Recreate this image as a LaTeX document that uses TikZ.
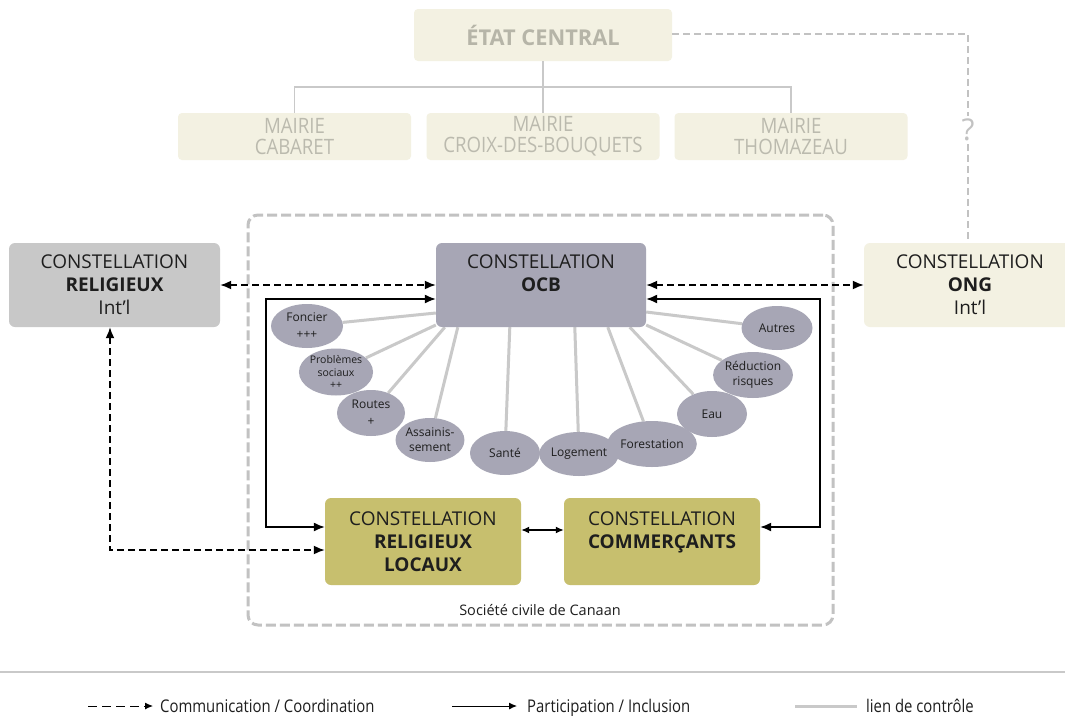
\documentclass[tikz,border=0pt]{standalone}
\usepackage{fontspec}
\setmainfont{Open Sans}
\newfontfamily\condfont[FakeStretch=0.88]{Open Sans}
\newfontfamily\legfont[FakeStretch=0.85]{Open Sans}
\usetikzlibrary{arrows.meta,calc,shapes.geometric,backgrounds}
\definecolor{beige}{HTML}{F3F1E2}
\definecolor{beigetxt}{HTML}{B6B5A8}
\definecolor{mairietxt}{HTML}{BBBAAE}
\definecolor{relgray}{HTML}{C8C8C8}
\definecolor{ocbc}{HTML}{A7A6B5}
\definecolor{olive}{HTML}{C7BF6E}
\definecolor{ctrlgray}{HTML}{C9C9C9}
\definecolor{dashgray}{HTML}{C2C2C2}
\definecolor{txtdark}{HTML}{1E1E1E}
\begin{document}
\begin{tikzpicture}[x=1pt,y=-1pt,
  box/.style={rounded corners=6pt, inner sep=0pt, align=center, text=txtdark,
    font=\fontsize{19}{23}\selectfont},
  topbox/.style={rounded corners=4pt, inner sep=0pt, align=center, fill=beige},
  oval/.style={ellipse, fill=ocbc, inner sep=0pt, align=center, text=txtdark,
    minimum width=70pt, minimum height=45pt, font=\fontsize{12}{17}\selectfont},
  ctrl/.style={draw=ctrlgray, line width=3pt},
  commarrow/.style={draw=black, line width=1.7pt, dash pattern=on 7pt off 4pt,
    {Latex[length=11pt,width=9pt]}-{Latex[length=11pt,width=9pt]}},
  partarrow/.style={draw=black, line width=1.4pt,
    {Latex[length=11pt,width=9pt]}-{Latex[length=11pt,width=9pt]}},
  tree/.style={draw=ctrlgray, line width=1.2pt},
  legtxt/.style={anchor=base west, inner sep=0pt, font=\legfont\fontsize{17.5}{19}\selectfont, text=txtdark}
]
\clip (0,0) rectangle (1065,715);
\useasboundingbox (0,0) rectangle (1065,715);

% top hierarchy
\node[topbox, minimum width=258pt, minimum height=52pt, text=beigetxt,
  font=\bfseries\fontsize{21.8}{24}\selectfont] (etat) at (543,35) {ÉTAT CENTRAL};
\foreach \n/\x/\t in {cab/294.5/CABARET, croix/543/CROIX-DES-BOUQUETS, thom/791/THOMAZEAU}{
  \node[topbox, minimum width=233pt, minimum height=47pt, text=mairietxt,
    font=\condfont\fontsize{21.2}{21}\selectfont] (\n) at (\x,136.5) {MAIRIE\\\t};
}
\coordinate (tmid) at (543,87);
\draw[tree] (etat.south) -- (tmid);
\draw[tree] (cab.north) |- (tmid) -| (thom.north);
\draw[tree] (tmid) -- (croix.north);

% civil society frame
\node[draw=dashgray, line width=3pt, dash pattern=on 10pt off 4pt, rounded corners=10pt,
  minimum width=585pt, minimum height=410pt, inner sep=0pt] (civil) at (540.5,420) {};
\node[font=\fontsize{14.5}{16}\selectfont, text=txtdark] (civtxt) at (540,610) {Société civile de Canaan};

% main boxes
\node[box, fill=relgray, minimum width=211pt, minimum height=84pt] (rel) at (114.5,285)
  {CONSTELLATION\\\textbf{RELIGIEUX}\\Int’l};
\node[box, fill=ocbc, minimum width=210pt, minimum height=84pt] (ocb) at (541,285)
  {CONSTELLATION\\\textbf{OCB}\\\vphantom{Int’l}};
\node[box, fill=beige, minimum width=212pt, minimum height=84pt] (ong) at (970,285)
  {CONSTELLATION\\\textbf{ONG}\\Int’l};
\node[box, fill=olive, minimum width=196pt, minimum height=87pt] (loc) at (423,541.5)
  {CONSTELLATION\\\textbf{RELIGIEUX}\\\textbf{LOCAUX}};
\node[box, fill=olive, minimum width=196pt, minimum height=87pt] (com) at (662,541.5)
  {CONSTELLATION\\\textbf{COMMERÇANTS}\\\vphantom{\textbf{LOCAUX}}};

% theme ovals
\node[oval, minimum width=72pt, minimum height=44pt] (fon) at (307,326) {Foncier\\+++};
\node[oval, minimum width=68pt, minimum height=47pt, font=\fontsize{10.5}{12.5}\selectfont] (pro) at (336,372) {Problèmes\\sociaux\\++};
\node[oval, minimum width=68pt, minimum height=46pt] (rou) at (371,413) {Routes\\+};
\node[oval, minimum width=66pt, minimum height=44pt, font=\fontsize{12}{15}\selectfont] (ass) at (430,440) {Assainis-\\sement};
\node[oval, minimum width=70pt, minimum height=44pt] (san) at (505,453) {Santé};
\node[oval, minimum width=68pt, minimum height=44pt] (log) at (579,454) {Logement};
\node[oval, minimum width=70pt, minimum height=46pt] (for) at (652,444) {Forestation};
\node[oval, minimum width=70pt, minimum height=46pt] (eau) at (712,414) {Eau};
\node[oval, minimum width=70pt, minimum height=46pt, font=\fontsize{12}{15}\selectfont] (red) at (753,375) {Réduction\\risques};
\node[oval, minimum width=71pt, minimum height=44pt] (aut) at (777,328) {Autres};

\begin{scope}[on background layer]
  \fill[white] (0,0) rectangle (1065,715);
  \draw[ctrl] ([yshift=-28pt]ocb.west) -- (fon);
  \draw[ctrl] ([yshift=-40pt]ocb.west) -- (pro);
  \draw[ctrl] ([xshift=9pt]ocb.south west) -- (rou);
  \draw[ctrl] ([xshift=22pt]ocb.south west) -- (ass);
  \draw[ctrl] ([xshift=74pt]ocb.south west) -- (san);
  \draw[ctrl] ([xshift=139pt]ocb.south west) -- (log);
  \draw[ctrl] ([xshift=172pt]ocb.south west) -- (for);
  \draw[ctrl] ([xshift=194pt]ocb.south west) -- (eau);
  \draw[ctrl] ([yshift=-40pt]ocb.east) -- (red);
  \draw[ctrl] ([yshift=-27pt]ocb.east) -- (aut);
\end{scope}

% state to NGO link
\coordinate (sA) at (968,34);
\node[font=\fontsize{30}{32}\selectfont, text=dashgray, fill=white, inner sep=3pt] (q) at (968,130) {?};
\draw[draw=dashgray, line width=1.3pt, dash pattern=on 7pt off 4pt] (etat.east |- sA) -- (sA) -- (q.north);
\draw[draw=dashgray, line width=1.3pt, dash pattern=on 7pt off 4pt] (q.south) -- ([xshift=-2pt]ong.north);

% communication arrows
\draw[commarrow] (rel.east) -- (ocb.west);
\draw[commarrow] (ocb.east) -- (ong.west);
\coordinate (dA) at (110,550);
\draw[commarrow] ([xshift=-4.5pt]rel.south) -- (dA) -- ([yshift=-8.5pt]loc.west);

% participation arrows
\coordinate (lA) at (266,299);
\draw[partarrow] ([yshift=-14pt]ocb.west) -- (lA) |- ([yshift=14.5pt]loc.west);
\coordinate (rA) at (820,299);
\draw[partarrow] ([yshift=-14pt]ocb.east) -- (rA) |- ([yshift=14.5pt]com.east);
\draw[draw=black, line width=1.4pt, {Latex[length=8pt,width=7pt]}-{Latex[length=8pt,width=7pt]}]
  ([yshift=11.5pt]loc.east) -- ([yshift=11.5pt]com.west);

% legend
\coordinate (lgA) at (0,672);
\coordinate (lgB) at (1065,672);
\draw[draw=ctrlgray, line width=2.5pt] (lgA) -- (lgB);
\coordinate (l1a) at (88,706); \coordinate (l1b) at (153,706);
\draw[draw=black, line width=1pt, dash pattern=on 9pt off 5pt, -{Latex[length=8pt,width=7pt]}] (l1a) -- (l1b);
\node[legtxt] (l1t) at (160,712) {Communication / Coordination};
\coordinate (l2a) at (452,706); \coordinate (l2b) at (517,706);
\draw[draw=black, line width=1pt, -{Latex[length=8pt,width=7pt]}] (l2a) -- (l2b);
\node[legtxt] (l2t) at (527,712) {Participation / Inclusion};
\coordinate (l3a) at (795,706); \coordinate (l3b) at (857,706);
\draw[draw=ctrlgray, line width=3pt] (l3a) -- (l3b);
\node[legtxt] (l3t) at (866,712) {lien de contrôle};
\end{tikzpicture}
\end{document}
